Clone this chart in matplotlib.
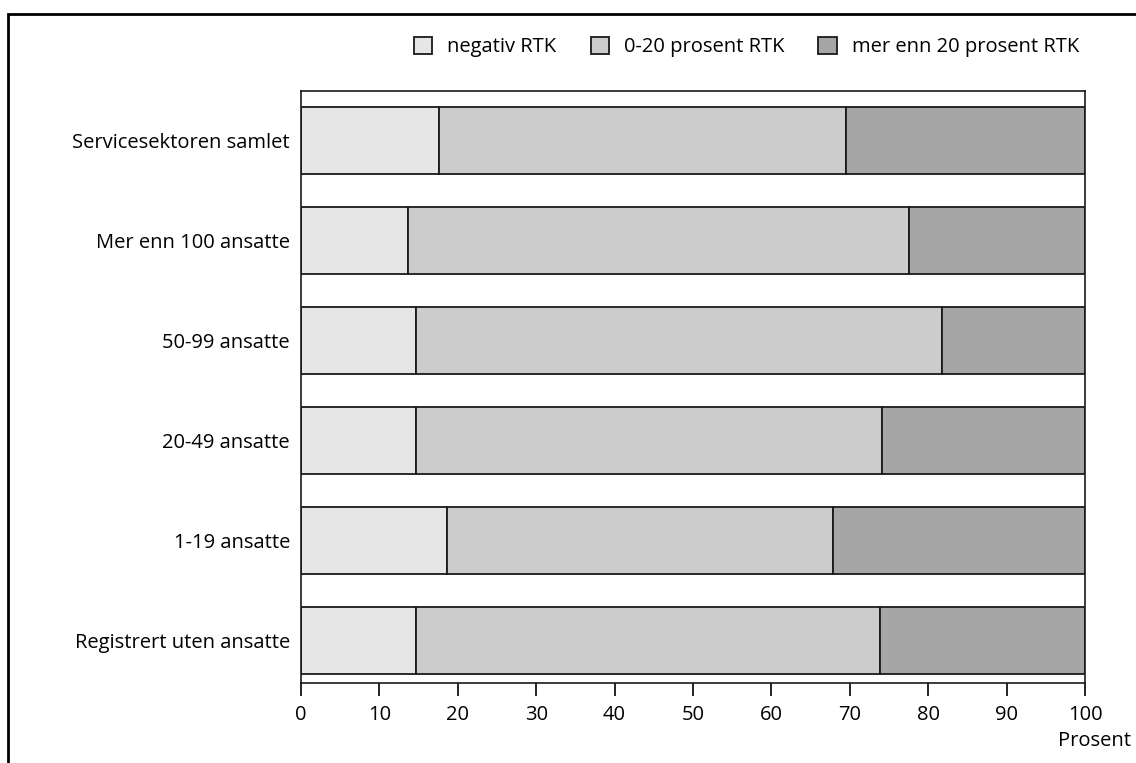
import matplotlib
matplotlib.use('Agg')
import matplotlib.pyplot as plt
from matplotlib.patches import Rectangle

plt.rcParams['font.family'] = ['Open Sans', 'DejaVu Sans']

# data (prosent)
categories = ['Servicesektoren samlet', 'Mer enn 100 ansatte', '50-99 ansatte',
              '20-49 ansatte', '1-19 ansatte', 'Registrert uten ansatte']
negativ = [17.6, 13.6, 14.7, 14.7, 18.6, 14.7]
lav = [51.9, 63.9, 67.1, 59.4, 49.3, 59.2]
hoy = [30.5, 22.5, 18.2, 25.9, 32.1, 26.1]
series_labels = ['negativ RTK', '0-20 prosent RTK', 'mer enn 20 prosent RTK']
colors = ['#e6e6e6', '#cccccc', '#a6a6a6']
xticks = list(range(0, 101, 10))

fs = 14.5

fig = plt.figure(figsize=(11.36, 7.63), dpi=100)
ax = fig.add_axes([301 / 1136, 1 - 683 / 763, 784 / 1136, 592 / 763])

# outer frame, runs off the right and bottom edges
fig.patches.append(Rectangle((8 / 1136, -0.1), 1.2, 1 - 14 / 763 + 0.1,
                             transform=fig.transFigure, fill=False,
                             edgecolor='black', linewidth=2))

y = list(range(len(categories)))[::-1]
left = [0] * len(categories)
for vals, lab, col in zip([negativ, lav, hoy], series_labels, colors):
    ax.barh(y, vals, left=left, height=0.67, color=col, edgecolor='#1a1a1a',
            linewidth=1.3, label=lab)
    left = [a + b for a, b in zip(left, vals)]

ax.set_xlim(0, 100)
ax.set_ylim(-0.43, 5.495)
ax.set_xticks(xticks)
ax.set_yticks(y)
ax.set_yticklabels(categories)
ax.tick_params(axis='y', length=0, pad=8, labelsize=fs)
ax.tick_params(axis='x', direction='out', length=9, width=1.2, pad=7, labelsize=fs)
for s in ax.spines.values():
    s.set_linewidth(1.2)
    s.set_color('#1a1a1a')

fig.legend(loc='center right', bbox_to_anchor=(1087 / 1136, 1 - 47 / 763), ncol=3,
           frameon=False, fontsize=fs, handlelength=0.9, handleheight=0.9,
           handletextpad=0.75, columnspacing=1.7, borderaxespad=0)

fig.text(1131 / 1136, 1 - 741 / 763, 'Prosent', ha='right', va='center', fontsize=fs)

fig.savefig('out.png', dpi=100)
